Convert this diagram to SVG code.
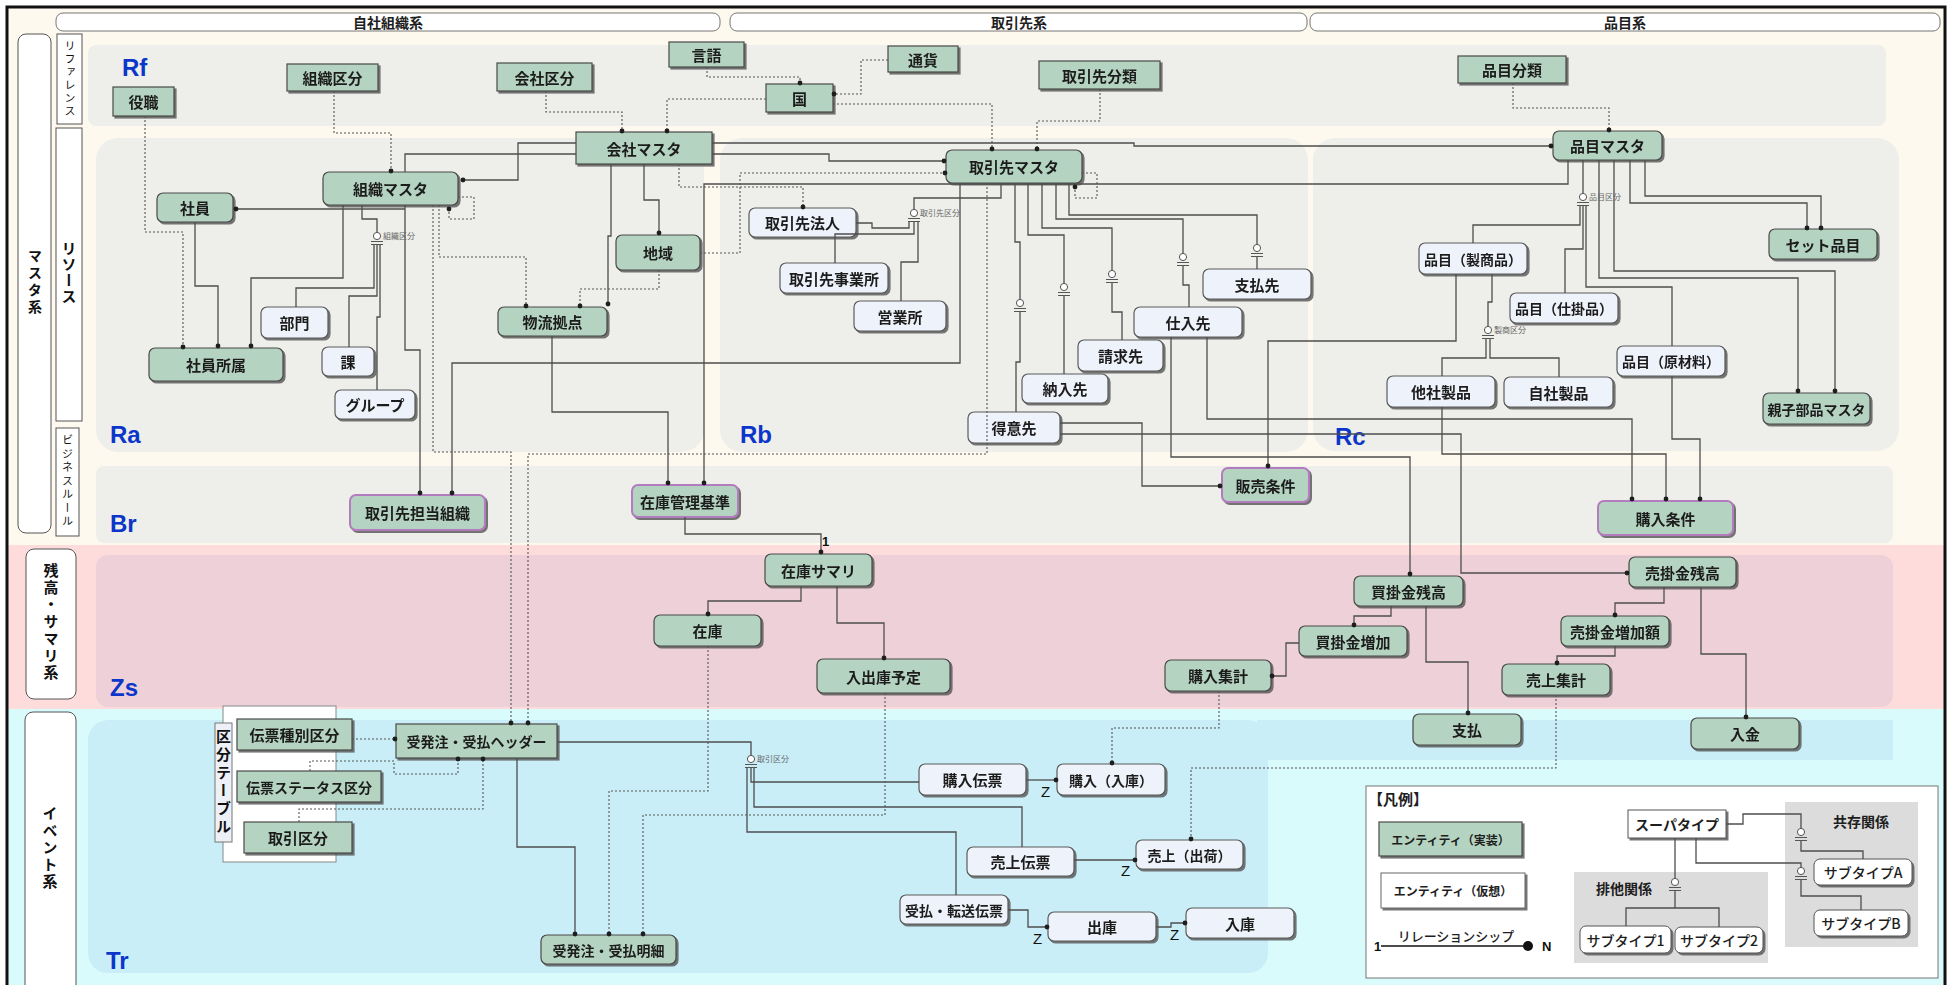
<svg xmlns="http://www.w3.org/2000/svg" width="1948" height="985" viewBox="0 0 1948 985">
<defs>
<style>
.g{fill:#B4D3C0;stroke:#4a4a4a;stroke-width:1.2}
.w{fill:#EEF2FA;stroke:#5a5a5a;stroke-width:1.2}
.p{fill:#B4D3C0;stroke:#B27CBE;stroke-width:2}
.t{font-family:"Noto Sans CJK JP","Noto Sans",sans-serif;font-weight:700;font-size:15px;fill:#1e1e1e;text-anchor:middle;dominant-baseline:central}
.s{font-size:14px}
.rel{fill:none;stroke:#4e4e4e;stroke-width:1.3;marker-end:url(#dot)}
.rn{fill:none;stroke:#4e4e4e;stroke-width:1.3}
.ref{fill:none;stroke:#555;stroke-width:1.1;stroke-dasharray:2 2;marker-end:url(#dot)}
.hdr{fill:#fff;stroke:#777;stroke-width:1}
.lab{fill:#fff;stroke:#555;stroke-width:1}
.vt{font-family:"Noto Sans CJK JP",sans-serif;fill:#111;text-anchor:middle;writing-mode:vertical-rl}
.reg{font-family:"Liberation Sans",Arial,sans-serif;font-weight:700;font-size:24px;fill:#0B36C9}
.sl{font-family:"Noto Sans CJK JP",sans-serif;font-size:8px;fill:#666}
.z{font-family:"Liberation Sans",Arial,sans-serif;font-size:15px;fill:#111}
.panel{fill:#EEEEEA}
</style>
<marker id="dot" viewBox="0 0 6 6" refX="3" refY="3" markerWidth="6" markerHeight="6" markerUnits="userSpaceOnUse"><circle cx="3" cy="3" r="2.4" fill="#1e1e1e"/></marker>
<g id="sub"><circle cx="0" cy="0" r="3.6" fill="#fff" stroke="#555" stroke-width="1"/><path d="M-6 5.5H6M-6 8.5H6" stroke="#555" stroke-width="1.1"/></g>
<filter id="sh" x="-10%" y="-10%" width="130%" height="140%"><feDropShadow dx="2" dy="2" stdDeviation="0.7" flood-color="#555" flood-opacity="0.8"/></filter>
</defs>

<g id="background">
<rect x="0" y="0" width="1948" height="985" fill="#fff"/>
<rect x="7" y="7" width="1938" height="538" fill="#FEF9EE"/>
<rect x="7" y="545" width="1938" height="164" fill="#FEDCDC"/>
<rect x="7" y="709" width="1938" height="280" fill="#D9FBFC"/>
<rect x="88" y="45" width="1798" height="81" rx="8" class="panel"/>
<rect x="96" y="138" width="608" height="314" rx="22" class="panel"/>
<rect x="720" y="138" width="588" height="314" rx="22" class="panel"/>
<rect x="1313" y="138" width="586" height="313" rx="22" class="panel"/>
<rect x="96" y="466" width="1797" height="77" rx="8" class="panel"/>
<rect x="96" y="555" width="1797" height="152" rx="12" fill="#EED0D8"/>
<rect x="88" y="720" width="1180" height="253" rx="20" fill="#C9EEF7"/>
<rect x="1257" y="720" width="636" height="40" fill="#C9EEF7"/>
<rect x="7" y="7" width="1938" height="990" fill="none" stroke="#111" stroke-width="3"/>
</g>

<g id="headers">
<rect x="56" y="13" width="664" height="18" rx="7" class="hdr"/>
<text x="388" y="22" class="t s">自社組織系</text>
<rect x="730" y="13" width="577" height="18" rx="7" class="hdr"/>
<text x="1019" y="22" class="t s">取引先系</text>
<rect x="1310" y="13" width="630" height="18" rx="7" class="hdr"/>
<text x="1625" y="22" class="t s">品目系</text>
</g>

<g id="side-labels">
<rect x="18" y="34" width="33" height="499" rx="8" class="lab"/>
<text x="35" y="283" class="vt" style="font-size:14px;font-weight:700;letter-spacing:3px">マスタ系</text>
<rect x="57" y="34" width="25" height="90" class="lab"/>
<text x="70" y="79" class="vt" style="font-size:11px;letter-spacing:2px">リファレンス</text>
<rect x="56" y="128" width="26" height="293" class="lab"/>
<text x="69" y="273" class="vt" style="font-size:15px;font-weight:700;letter-spacing:1px">リソース</text>
<rect x="56" y="428" width="23" height="108" class="lab"/>
<text x="67.5" y="482" class="vt" style="font-size:11px;letter-spacing:2.5px">ビジネスルール</text>
<rect x="26" y="549" width="50" height="150" rx="8" class="lab"/>
<text x="51" y="622" class="vt" style="font-size:15px;font-weight:700;letter-spacing:2px">残高・サマリ系</text>
<rect x="25" y="712" width="51" height="290" rx="8" class="lab"/>
<text x="50" y="848" class="vt" style="font-size:15px;font-weight:700;letter-spacing:2px">イベント系</text>
</g>

<g id="region-labels">
<text x="122" y="76" class="reg">Rf</text>
<text x="110" y="443" class="reg">Ra</text>
<text x="740" y="443" class="reg">Rb</text>
<text x="1335" y="445" class="reg">Rc</text>
<text x="110" y="532" class="reg">Br</text>
<text x="110" y="696" class="reg">Zs</text>
<text x="106" y="969" class="reg">Tr</text>
</g>

<g id="kubun-table">
<rect x="223" y="706" width="113" height="156" fill="#fff" stroke="#888" stroke-width="1"/>
<rect x="215" y="723" width="17" height="119" fill="#EEF0F8" stroke="#777" stroke-width="1"/>
<text x="223.5" y="783" class="vt" style="font-size:15px;font-weight:700;letter-spacing:3px">区分テーブル</text>
</g>

<g id="nodes" filter="url(#sh)">
<g id="n-yakushoku"><rect x="113" y="87" width="61" height="29" class="g"/><text x="143.5" y="101.5" class="t">役職</text></g>
<g id="n-soshikikubun"><rect x="287" y="64" width="91" height="27" class="g"/><text x="332.5" y="77.5" class="t">組織区分</text></g>
<g id="n-kaishakubun"><rect x="497" y="63" width="95" height="28" class="g"/><text x="544.5" y="77" class="t">会社区分</text></g>
<g id="n-gengo"><rect x="669" y="42" width="75" height="25" class="g"/><text x="706.5" y="54.5" class="t">言語</text></g>
<g id="n-tsuka"><rect x="888" y="46" width="70" height="26" class="g"/><text x="923" y="59" class="t">通貨</text></g>
<g id="n-kuni"><rect x="766" y="84" width="67" height="28" class="g"/><text x="799.5" y="98" class="t">国</text></g>
<g id="n-torihikisakibunrui"><rect x="1039" y="61" width="121" height="28" class="g"/><text x="1099.5" y="75" class="t">取引先分類</text></g>
<g id="n-hinmokubunrui"><rect x="1458" y="56" width="108" height="27" class="g"/><text x="1512" y="69.5" class="t">品目分類</text></g>
<g id="n-kaishamaster"><rect x="576" y="132" width="136" height="32" class="g"/><text x="644" y="148" class="t">会社マスタ</text></g>
<g id="n-soshikimaster"><rect x="323" y="172" width="135" height="33" rx="6" class="g"/><text x="390.5" y="188.5" class="t">組織マスタ</text></g>
<g id="n-shain"><rect x="157" y="193" width="76" height="29" rx="6" class="g"/><text x="195" y="207.5" class="t">社員</text></g>
<g id="n-shainshozoku"><rect x="149" y="348" width="134" height="33" rx="6" class="g"/><text x="216" y="364.5" class="t">社員所属</text></g>
<g id="n-bumon"><rect x="261" y="307" width="67" height="31" rx="6" class="w"/><text x="294.5" y="322.5" class="t">部門</text></g>
<g id="n-ka"><rect x="322" y="347" width="52" height="29" rx="6" class="w"/><text x="348" y="361.5" class="t">課</text></g>
<g id="n-group"><rect x="335" y="390" width="80" height="29" rx="6" class="w"/><text x="375" y="404.5" class="t">グループ</text></g>
<g id="n-chiiki"><rect x="616" y="235" width="84" height="35" rx="6" class="g"/><text x="658" y="252.5" class="t">地域</text></g>
<g id="n-butsuryu"><rect x="498" y="307" width="109" height="29" rx="6" class="g"/><text x="552.5" y="321.5" class="t">物流拠点</text></g>
<g id="n-torihikisakimaster"><rect x="946" y="150" width="136" height="33" rx="6" class="g"/><text x="1014" y="166.5" class="t">取引先マスタ</text></g>
<g id="n-torihikisakihojin"><rect x="749" y="208" width="107" height="29" rx="6" class="w"/><text x="802.5" y="222.5" class="t">取引先法人</text></g>
<g id="n-torihikisakijigyosho"><rect x="780" y="263" width="108" height="30" rx="6" class="w"/><text x="834" y="278" class="t">取引先事業所</text></g>
<g id="n-eigyosho"><rect x="854" y="301" width="92" height="30" rx="6" class="w"/><text x="900" y="316" class="t">営業所</text></g>
<g id="n-shiiresaki"><rect x="1134" y="307" width="108" height="30" rx="6" class="w"/><text x="1188" y="322" class="t">仕入先</text></g>
<g id="n-shiharaisaki"><rect x="1203" y="269" width="108" height="30" rx="6" class="w"/><text x="1257" y="284" class="t">支払先</text></g>
<g id="n-seikyusaki"><rect x="1078" y="340" width="85" height="31" rx="6" class="w"/><text x="1120.5" y="355.5" class="t">請求先</text></g>
<g id="n-nonyusaki"><rect x="1022" y="374" width="86" height="29" rx="6" class="w"/><text x="1065" y="388.5" class="t">納入先</text></g>
<g id="n-tokuisaki"><rect x="968" y="412" width="92" height="31" rx="6" class="w"/><text x="1014" y="427.5" class="t">得意先</text></g>
<g id="n-hinmokumaster"><rect x="1553" y="131" width="109" height="29" rx="6" class="g"/><text x="1607.5" y="145.5" class="t">品目マスタ</text></g>
<g id="n-sethinmoku"><rect x="1769" y="229" width="108" height="30" rx="6" class="g"/><text x="1823" y="244" class="t">セット品目</text></g>
<g id="n-oyako"><rect x="1763" y="393" width="107" height="31" rx="6" class="g"/><text x="1816.5" y="408.5" class="t s">親子部品マスタ</text></g>
<g id="n-seishohin"><rect x="1419" y="243" width="108" height="31" rx="6" class="w"/><text x="1473" y="258.5" class="t s">品目（製商品）</text></g>
<g id="n-shikakehin"><rect x="1510" y="293" width="108" height="30" rx="6" class="w"/><text x="1564" y="308" class="t s">品目（仕掛品）</text></g>
<g id="n-genzairyo"><rect x="1617" y="346" width="108" height="30" rx="6" class="w"/><text x="1671" y="361" class="t s">品目（原材料）</text></g>
<g id="n-tashaseihin"><rect x="1387" y="376" width="108" height="31" rx="6" class="w"/><text x="1441" y="391.5" class="t">他社製品</text></g>
<g id="n-jishaseihin"><rect x="1504" y="377" width="109" height="30" rx="6" class="w"/><text x="1558.5" y="392" class="t">自社製品</text></g>
<g id="n-tantososhiki"><rect x="350" y="495" width="135" height="35" rx="6" class="p"/><text x="417.5" y="512.5" class="t">取引先担当組織</text></g>
<g id="n-zaikokanri"><rect x="632" y="485" width="106" height="32" rx="6" class="p"/><text x="685" y="501" class="t">在庫管理基準</text></g>
<g id="n-hanbaijoken"><rect x="1222" y="468" width="87" height="34" rx="6" class="p"/><text x="1265.5" y="485" class="t">販売条件</text></g>
<g id="n-konyujoken"><rect x="1598" y="501" width="135" height="34" rx="6" class="p"/><text x="1665.5" y="518" class="t">購入条件</text></g>
<g id="n-zaikosummary"><rect x="765" y="554" width="107" height="32" rx="6" class="g"/><text x="818.5" y="570" class="t">在庫サマリ</text></g>
<g id="n-zaiko"><rect x="654" y="615" width="107" height="31" rx="6" class="g"/><text x="707.5" y="630.5" class="t">在庫</text></g>
<g id="n-nyushukkoyotei"><rect x="817" y="659" width="133" height="34" rx="6" class="g"/><text x="883.5" y="676" class="t">入出庫予定</text></g>
<g id="n-konyushukei"><rect x="1165" y="660" width="106" height="31" rx="6" class="g"/><text x="1218" y="675.5" class="t">購入集計</text></g>
<g id="n-kaikakezan"><rect x="1354" y="576" width="109" height="30" rx="6" class="g"/><text x="1408.5" y="591" class="t">買掛金残高</text></g>
<g id="n-urikakezan"><rect x="1629" y="557" width="107" height="30" rx="6" class="g"/><text x="1682.5" y="572" class="t">売掛金残高</text></g>
<g id="n-kaikakezoka"><rect x="1299" y="626" width="108" height="30" rx="6" class="g"/><text x="1353" y="641" class="t">買掛金増加</text></g>
<g id="n-urikakezoka"><rect x="1561" y="616" width="108" height="30" rx="6" class="g"/><text x="1615" y="631" class="t">売掛金増加額</text></g>
<g id="n-uriageshukei"><rect x="1502" y="664" width="108" height="31" rx="6" class="g"/><text x="1556" y="679.5" class="t">売上集計</text></g>
<g id="n-shiharai"><rect x="1413" y="714" width="108" height="31" rx="6" class="g"/><text x="1467" y="729.5" class="t">支払</text></g>
<g id="n-nyukin"><rect x="1691" y="718" width="108" height="31" rx="6" class="g"/><text x="1745" y="733.5" class="t">入金</text></g>
<g id="n-denpyoshubetsu"><rect x="237" y="719" width="115" height="31" class="g"/><text x="294.5" y="734.5" class="t">伝票種別区分</text></g>
<g id="n-denpyostatus"><rect x="237" y="771" width="144" height="31" class="g"/><text x="309" y="786.5" class="t s">伝票ステータス区分</text></g>
<g id="n-torihikikubun"><rect x="244" y="822" width="108" height="31" class="g"/><text x="298" y="837.5" class="t">取引区分</text></g>
<g id="n-header"><rect x="396" y="724" width="161" height="34" class="g"/><text x="476.5" y="741" class="t s">受発注・受払ヘッダー</text></g>
<g id="n-meisai"><rect x="541" y="935" width="135" height="29" rx="6" class="g"/><text x="608.5" y="949.5" class="t s">受発注・受払明細</text></g>
<g id="n-konyudenpyo"><rect x="919" y="764" width="107" height="31" rx="6" class="w"/><text x="972.5" y="779.5" class="t">購入伝票</text></g>
<g id="n-konyunyuko"><rect x="1057" y="764" width="108" height="31" rx="6" class="w"/><text x="1111" y="779.5" class="t s">購入（入庫）</text></g>
<g id="n-uriagedenpyo"><rect x="967" y="847" width="107" height="29" rx="6" class="w"/><text x="1020.5" y="861.5" class="t">売上伝票</text></g>
<g id="n-uriageshukka"><rect x="1136" y="840" width="107" height="29" rx="6" class="w"/><text x="1189.5" y="854.5" class="t s">売上（出荷）</text></g>
<g id="n-ukeharaitenso"><rect x="900" y="895" width="108" height="29" rx="6" class="w"/><text x="954" y="909.5" class="t s">受払・転送伝票</text></g>
<g id="n-shukko"><rect x="1048" y="912" width="108" height="29" rx="6" class="w"/><text x="1102" y="926.5" class="t">出庫</text></g>
<g id="n-nyuko"><rect x="1186" y="908" width="108" height="30" rx="6" class="w"/><text x="1240" y="923" class="t">入庫</text></g>
</g>

<g id="connectors">
<path class="rel" d="M576 143H518V180H463"/>
<path class="rn" d="M576 154H405V172"/>
<path class="rel" d="M405 205V350H420V493"/>
<path class="rel" d="M405 209H236"/>
<path class="rel" d="M343 205V278H251V346"/>
<path class="rel" d="M195 222V286H218V346"/>
<path class="rn" d="M362 205V219H377V232M374 244V288H296V307M377 244V296H349V347M380 244V317H377V390"/>
<path class="rel" d="M611 164V236H608V304"/>
<path class="rel" d="M644 164V200H659V233"/>
<path class="rel" d="M552 336V412H668V483"/>
<path class="rel" d="M960 183V363H452V493"/>
<path class="rel" d="M1568 160V184H704V483"/>
<path class="rel" d="M712 154H829V161H944"/>
<path class="rel" d="M712 143H1134V146H1551"/>
<path class="rn" d="M1001 183V198H914V209M909 221V228H872V223H856M914 221V234H835V263M918 221V262H901V301"/>
<path class="rn" d="M1015 183V242H1020V299M1020 311V362H1016V412"/>
<path class="rn" d="M1028 183V235H1064V283M1064 295V374"/>
<path class="rn" d="M1042 183V228H1112V270M1112 282V312H1122V340"/>
<path class="rn" d="M1056 183V219H1183V253M1183 265V285H1189V307"/>
<path class="rn" d="M1069 183V215H1257V244M1257 256V269"/>
<path class="rel" d="M1060 423H1142V486H1220"/>
<path class="rel" d="M1060 434H1461V573H1627"/>
<path class="rel" d="M1171 337V457H1410V574"/>
<path class="rel" d="M1207 337V419H1632V499"/>
<path class="rel" d="M1456 274V341H1268V466"/>
<path class="rel" d="M1442 407V454H1666V499"/>
<path class="rel" d="M1672 376V439H1700V499"/>
<path class="rn" d="M1583 160V193M1580 205V225H1473V243M1583 205V249H1565V293M1586 205V287H1672V346"/>
<path class="rel" d="M1599 160V278H1798V391"/>
<path class="rel" d="M1614 160V271H1835V391"/>
<path class="rel" d="M1630 160V203H1807V228"/>
<path class="rel" d="M1645 160V196H1821V228"/>
<path class="rn" d="M1492 274V302H1488V326M1486 338V358H1442V376M1490 338V358H1559V377"/>
<path class="rel" d="M685 517V534H821V552"/>
<path class="rel" d="M801 586V601H708V614"/>
<path class="rel" d="M837 586V623H884V658"/>
<path class="rel" d="M1391 606V616H1354V625"/>
<path class="rel" d="M1426 606V662H1468V713"/>
<path class="rel" d="M1299 643H1286V676H1272"/>
<path class="rel" d="M1664 587V603H1615V615"/>
<path class="rel" d="M1615 646V656H1557V663"/>
<path class="rel" d="M1701 587V654H1746V717"/>
<path class="rel" d="M517 758V847H575V934"/>
<path class="rn" d="M557 742H751V755M751 767V782H919M754 767V807H1022V847M747 767V832H956V895"/>
<path class="rel" d="M1026 780H1056"/>
<path class="rel" d="M1074 860H1135"/>
<path class="rel" d="M1008 910H1028V927H1047"/>
<path class="rel" d="M1156 927H1171V923H1185"/>
<path class="ref" d="M145 116V232H183V347"/>
<path class="ref" d="M334 91V133H391V171"/>
<path class="ref" d="M546 91V112H622V131"/>
<path class="ref" d="M766 99H667V131"/>
<path class="ref" d="M707 67V77H800V83"/>
<path class="ref" d="M888 60H861V94H834"/>
<path class="ref" d="M833 104H992V149"/>
<path class="ref" d="M1100 89V121H1037V149"/>
<path class="ref" d="M1513 83V108H1609V130"/>
<path class="ref" d="M458 197H474V219H449V209"/>
<path class="ref" d="M439 205V257H526V306"/>
<path class="ref" d="M659 270V289H580V306"/>
<path class="ref" d="M433 205V452H511V723"/>
<path class="ref" d="M987 183V454H528V723"/>
<path class="ref" d="M700 253H740V173H945"/>
<path class="ref" d="M679 164V187H803V207"/>
<path class="ref" d="M1082 173H1097V198H1075V187"/>
<path class="ref" d="M1219 691V728H1112V763"/>
<path class="ref" d="M1556 695V768H1191V839"/>
<path class="ref" d="M708 646V791H609V934"/>
<path class="ref" d="M885 693V815H643V934"/>
<path class="ref" d="M352 739H395"/>
<path class="ref" d="M310 771V761H394V774H458V759"/>
<path class="ref" d="M299 822V809H483V759"/>
<use href="#sub" x="377" y="236"/>
<use href="#sub" x="914" y="213"/>
<use href="#sub" x="1020" y="303"/>
<use href="#sub" x="1064" y="287"/>
<use href="#sub" x="1112" y="274"/>
<use href="#sub" x="1183" y="257"/>
<use href="#sub" x="1257" y="248"/>
<use href="#sub" x="1583" y="197"/>
<use href="#sub" x="1488" y="330"/>
<use href="#sub" x="751" y="759"/>
<text x="383" y="239" class="sl">組織区分</text>
<text x="920" y="216" class="sl">取引先区分</text>
<text x="1589" y="200" class="sl">品目区分</text>
<text x="1494" y="333" class="sl">製商区分</text>
<text x="757" y="762" class="sl">取引区分</text>
<text x="822" y="546" class="z" style="font-size:13px;font-weight:700">1</text>
<text x="1041" y="797" class="z">Z</text>
<text x="1121" y="876" class="z">Z</text>
<text x="1033" y="944" class="z">Z</text>
<text x="1170" y="940" class="z">Z</text>
</g>

<g id="legend">
<rect x="1366" y="786" width="572" height="192" fill="#fff" stroke="#777" stroke-width="1"/>
<text x="1368" y="798" class="t" style="text-anchor:start">【凡例】</text>
<rect x="1574" y="872" width="194" height="91" fill="#DCDCDC"/>
<rect x="1785" y="802" width="133" height="145" fill="#DCDCDC"/>
<g filter="url(#sh)">
<rect x="1379" y="822" width="143" height="34" class="g"/>
<rect x="1381" y="873" width="144" height="35" fill="#fff" stroke="#666" stroke-width="1"/>
<rect x="1628" y="810" width="98" height="28" fill="#fff" stroke="#555" stroke-width="1"/>
<rect x="1580" y="926" width="91" height="27" rx="6" fill="#fff" stroke="#555" stroke-width="1"/>
<rect x="1675" y="927" width="88" height="26" rx="6" fill="#fff" stroke="#555" stroke-width="1"/>
<rect x="1814" y="859" width="98" height="26" rx="6" fill="#fff" stroke="#555" stroke-width="1"/>
<rect x="1814" y="910" width="94" height="26" rx="6" fill="#fff" stroke="#555" stroke-width="1"/>
</g>
<text x="1450.5" y="839" class="t" style="font-size:12px">エンティティ（実装）</text>
<text x="1453" y="890.5" class="t" style="font-size:12px">エンティティ（仮想）</text>
<text x="1677" y="824" class="t s">スーパタイプ</text>
<text x="1625.5" y="939.5" class="t s" style="font-weight:500">サブタイプ1</text>
<text x="1719" y="940" class="t s" style="font-weight:500">サブタイプ2</text>
<text x="1863" y="872" class="t s" style="font-weight:500">サブタイプA</text>
<text x="1861" y="923" class="t s" style="font-weight:500">サブタイプB</text>
<text x="1624" y="888" class="t" style="font-size:14px">排他関係</text>
<text x="1861" y="821" class="t" style="font-size:14px">共存関係</text>
<text x="1456" y="935" class="t" style="font-size:13px;font-weight:500">リレーションシップ</text>
<path d="M1381 946H1526" stroke="#111" stroke-width="1.3"/>
<circle cx="1528" cy="946" r="5" fill="#111"/>
<text x="1374" y="951" class="z" style="font-size:13px;font-weight:700">1</text>
<text x="1542" y="951" class="z" style="font-size:13px;font-weight:700">N</text>
<path class="rn" d="M1675 838V878M1675 890V908M1626 926V908H1719V927M1726 824H1743V814H1801V828M1801 840V851H1863V859M1696 838V863H1801V867M1801 879V896H1861V910"/>
<use href="#sub" x="1675" y="882"/>
<use href="#sub" x="1801" y="832"/>
<use href="#sub" x="1801" y="871"/>
</g>
</svg>
